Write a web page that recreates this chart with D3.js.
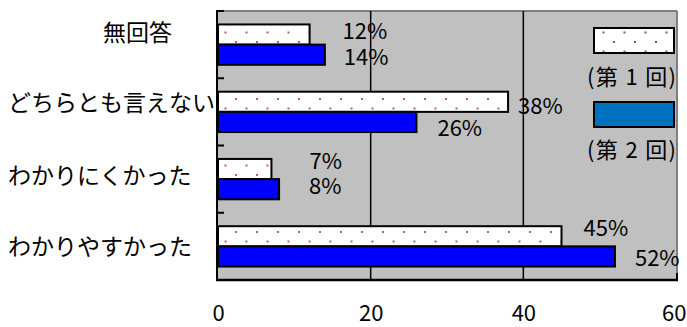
<!DOCTYPE html>
<html>
<head>
<meta charset="utf-8">
<script src="https://cdn.jsdelivr.net/npm/d3@7"></script>
<style>
  html, body { margin: 0; padding: 0; background: #fff; }
  svg { display: block; }
  text { font-family: "Noto Sans CJK JP", "Noto Sans", sans-serif; fill: #000; }
</style>
</head>
<body>
<div id="chart"></div>
<script>
// ---- data ----
const categories = ["無回答", "どちらとも言えない", "わかりにくかった", "わかりやすかった"];
const round1 = [12, 38, 7, 45];   // 第1回 (%)
const round2 = [14, 26, 8, 52];   // 第2回 (%)
const seriesNames = ["(第 1 回)", "(第 2 回)"];
const xTicks = [0, 20, 40, 60];

// ---- layout (not data) ----
const W = 687, H = 327;
const plot = { left: 217, right: 677, top: 11, bottom: 280 };
const catLabelX = [103, 8, 8, 8];
const catLabelDy = [-11.5, -8.5, -3, 1];
const labelDx = [[33, 19], [10, 21], [38, 30], [22, 20]];
const labelDy = [[-3.5, 2.5], [4, 6], [-8, -3], [-8, 2]];
const digitHalf = 8;     // centre -> baseline for digits
const cjkHalf = 8;       // centre -> baseline for kana/kanji

const svg = d3.select("#chart").append("svg").attr("width", W).attr("height", H);

const defs = svg.append("defs");
function dotPattern(id, color) {
  const p = defs.append("pattern").attr("id", id)
    .attr("patternUnits", "userSpaceOnUse").attr("width", 21).attr("height", 19);
  p.append("rect").attr("width", 21).attr("height", 19).attr("fill", "#fff");
  p.append("rect").attr("x", 4).attr("y", 3).attr("width", 2).attr("height", 2).attr("fill", color);
  p.append("rect").attr("x", 14.5).attr("y", 12.5).attr("width", 2).attr("height", 2).attr("fill", color);
}
dotPattern("dotsPink", "#b0608a");
dotPattern("dotsGray", "#666");

const x = d3.scaleLinear().domain([0, 60]).range([218, 676]);
const y = d3.scaleBand().domain(categories).range([plot.top, plot.bottom])
  .paddingInner(0.4).paddingOuter(0.2);
const sub = d3.scaleBand().domain([0, 1]).range([0, y.bandwidth()]);

// plot background
svg.append("rect").attr("x", plot.left).attr("y", plot.top)
  .attr("width", plot.right - plot.left).attr("height", plot.bottom - plot.top)
  .attr("fill", "#c0c0c0");

// top & right frame
svg.append("line").attr("x1", plot.left).attr("x2", plot.right).attr("y1", plot.top).attr("y2", plot.top)
  .attr("stroke", "#808080").attr("stroke-width", 2);
svg.append("line").attr("x1", plot.right).attr("x2", plot.right).attr("y1", plot.top).attr("y2", plot.bottom)
  .attr("stroke", "#808080").attr("stroke-width", 2);

// gridlines
svg.append("g").selectAll("line").data(xTicks.filter(d => d > 0 && d < 60)).join("line")
  .attr("x1", d => x(d)).attr("x2", d => x(d))
  .attr("y1", plot.top).attr("y2", plot.bottom)
  .attr("stroke", "#000").attr("stroke-width", 1.5);

// bars
const series = [round1, round2];
const fills = ["url(#dotsPink)", "#0000ff"];
const gBars = svg.append("g");
categories.forEach((c, i) => {
  series.forEach((s, k) => {
    gBars.append("rect")
      .attr("x", x(0))
      .attr("y", y(c) + sub(k))
      .attr("width", x(s[i]) - x(0))
      .attr("height", sub.bandwidth())
      .attr("fill", fills[k])
      .attr("stroke", "#000").attr("stroke-width", 2);
  });
});

// value labels
const gLab = svg.append("g").attr("font-size", 22)
  .attr("font-family", "'Liberation Sans', Arial, sans-serif");
categories.forEach((c, i) => {
  series.forEach((s, k) => {
    gLab.append("text")
      .attr("x", x(s[i]) + labelDx[i][k])
      .attr("y", y(c) + sub(k) + sub.bandwidth() / 2 + labelDy[i][k] + digitHalf)
      .text(s[i] + "%");
  });
});

// left axis line + inner ticks at band boundaries
svg.append("line").attr("x1", plot.left).attr("x2", plot.left).attr("y1", plot.top - 1).attr("y2", plot.bottom + 1)
  .attr("stroke", "#000").attr("stroke-width", 2);
const bounds = d3.range(categories.length + 1).map(i => plot.top + i * y.step());
svg.append("g").selectAll("line").data(bounds).join("line")
  .attr("x1", plot.left).attr("x2", plot.left + 7)
  .attr("y1", d => d).attr("y2", d => d)
  .attr("stroke", "#000").attr("stroke-width", 2);

// category labels
svg.append("g").attr("font-size", 23).selectAll("text").data(categories).join("text")
  .attr("x", (d, i) => catLabelX[i])
  .attr("y", (d, i) => y(d) + y.bandwidth() / 2 + catLabelDy[i] + cjkHalf)
  .text(d => d);

// bottom axis
const xAxis = d3.axisBottom(x).tickValues(xTicks).tickSize(0).tickFormat(d3.format("d"));
const gx = svg.append("g").attr("transform", `translate(0,${plot.bottom})`).call(xAxis);
gx.select(".domain").remove();
gx.selectAll("text").attr("font-size", 22).attr("font-family", "'Liberation Sans', Arial, sans-serif")
  .attr("fill", "#000").attr("y", 41).attr("dy", "0");
gx.selectAll("text").filter(d => d === xTicks[xTicks.length - 1])
  .attr("text-anchor", "end").attr("x", W - 1 - x(xTicks[xTicks.length - 1]));
svg.append("line").attr("x1", plot.left - 1).attr("x2", plot.right + 1).attr("y1", plot.bottom).attr("y2", plot.bottom)
  .attr("stroke", "#000").attr("stroke-width", 2.5);
svg.append("line").attr("x1", plot.right).attr("x2", plot.right).attr("y1", plot.bottom - 7).attr("y2", plot.bottom)
  .attr("stroke", "#000").attr("stroke-width", 2);

// legend
const legendFills = ["url(#dotsGray)", "#0070c0"];
const legendTop = [28, 102];
const legendText = [77, 150];
const gLeg = svg.append("g");
seriesNames.forEach((n, k) => {
  gLeg.append("rect").attr("x", 594).attr("y", legendTop[k]).attr("width", 80).attr("height", 25)
    .attr("fill", legendFills[k]).attr("stroke", "#000").attr("stroke-width", 2);
  gLeg.append("text").attr("x", 587).attr("y", legendText[k] + cjkHalf)
    .attr("textLength", 89).attr("lengthAdjust", "spacing")
    .attr("font-size", 22).text(n);
});
</script>
</body>
</html>
